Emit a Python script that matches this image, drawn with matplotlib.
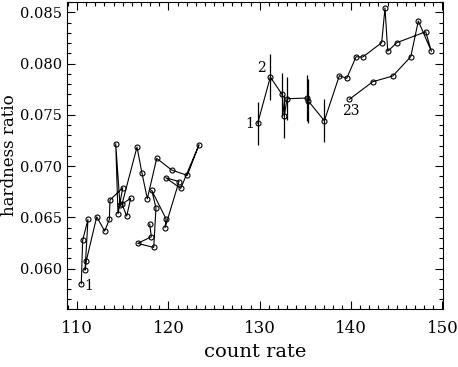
import numpy as np
import matplotlib.pyplot as plt
from matplotlib.ticker import MultipleLocator

# first observation (left group), points in time order
rate_a = [110.46, 110.61, 111.19, 110.87, 111.01, 112.15, 113.02, 113.53, 113.60,
          115.00, 114.48, 114.23, 114.70, 115.87, 115.43, 114.92, 116.56, 117.11,
          117.69, 118.72, 120.36, 122.07, 123.35, 121.35, 119.70, 121.16, 119.63,
          119.74, 118.17, 118.64, 118.39, 116.64, 118.13, 117.95]
hr_a = [0.05852, 0.06278, 0.06480, 0.05985, 0.06076, 0.06506, 0.06366, 0.06480, 0.06669,
        0.06789, 0.06535, 0.07219, 0.06617, 0.06686, 0.06513, 0.06630, 0.07187, 0.06930,
        0.06682, 0.07076, 0.06962, 0.06910, 0.07209, 0.06783, 0.06887, 0.06850, 0.06398,
        0.06486, 0.06764, 0.06594, 0.06207, 0.06246, 0.06311, 0.06435]

# second observation (right group)
rate_b = [129.78, 131.16, 132.44, 132.69, 132.99, 135.18, 135.32, 137.08, 138.72,
          139.53, 140.55, 141.28, 143.36, 143.72, 144.02, 145.01, 148.18, 148.80,
          147.37, 146.54, 144.57, 142.38, 139.81]
hr_b = [0.07418, 0.07870, 0.07701, 0.07489, 0.07658, 0.07665, 0.07636, 0.07443, 0.07883,
        0.07857, 0.08068, 0.08065, 0.08205, 0.08544, 0.08121, 0.08205, 0.08312, 0.08121,
        0.08417, 0.08068, 0.07880, 0.07824, 0.07652]
# errors only for the first 8 points of the second set
hr_b_err = [0.0021, 0.0022, 0.0021, 0.0021, 0.0021, 0.0022, 0.0021, 0.0021]

plt.rcParams['font.family'] = ['DejaVu Serif']

fig = plt.figure(figsize=(4.58, 3.67), dpi=100)
ax = fig.add_axes([0.147, 0.157, 0.8196, 0.8383])

ax.errorbar(rate_b[:8], hr_b[:8], yerr=hr_b_err, fmt='none', ecolor='black',
            elinewidth=0.9, capsize=0)
for xs, ys in [(rate_a, hr_a), (rate_b, hr_b)]:
    ax.plot(xs, ys, color='black', lw=0.8, marker='o', ms=3.6,
            mfc='none', mec='black', mew=0.8)

ax.text(rate_a[0] + 0.35, hr_a[0] - 0.0002, '1', fontsize=10, va='center', ha='left')
ax.text(rate_b[0] - 0.4, hr_b[0] - 0.0001, '1', fontsize=10, va='center', ha='right')
ax.text(rate_b[1] - 0.5, hr_b[1] + 0.0009, '2', fontsize=10, va='center', ha='right')
ax.text(rate_b[-1] + 0.2, hr_b[-1] - 0.0011, '23', fontsize=10, va='center', ha='center')

ax.set_xlim(108.93, 150.04)
ax.set_ylim(0.05602, 0.08605)
ax.xaxis.set_major_locator(MultipleLocator(10))
ax.xaxis.set_minor_locator(MultipleLocator(1))
ax.yaxis.set_major_locator(MultipleLocator(0.005))
ax.yaxis.set_minor_locator(MultipleLocator(0.001))
ax.yaxis.set_major_formatter(plt.FormatStrFormatter('%.3f'))
ax.tick_params(which='both', direction='in', top=True, right=True)
ax.tick_params(which='major', length=6, width=0.8)
ax.tick_params(which='minor', length=3, width=0.8)
ax.tick_params(axis='x', pad=8, labelsize=12)
ax.tick_params(axis='y', pad=4, labelsize=10.5)
ax.set_xlabel('count rate', fontsize=14, labelpad=4)
ax.set_ylabel('hardness ratio', fontsize=12)
ax.yaxis.set_label_coords(-0.132, 0.5)

fig.savefig('out.png', dpi=100)
